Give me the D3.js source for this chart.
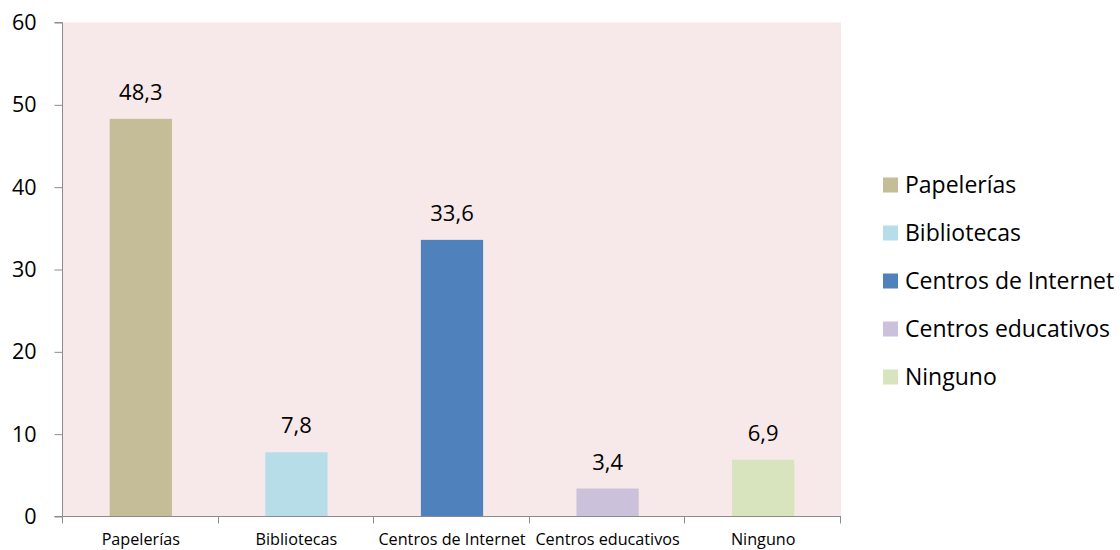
<!DOCTYPE html>
<html>
<head>
<meta charset="utf-8">
<script src="https://cdn.jsdelivr.net/npm/d3@7"></script>
<style>
  body { margin: 0; background: #fff; }
  svg { display: block; font-family: "Open Sans", "Noto Sans", sans-serif; }
</style>
</head>
<body>
<svg id="chart" width="1120" height="550"></svg>
<script>
// Lugares de acceso a Internet (%)
const categories = ["Papelerías", "Bibliotecas", "Centros de Internet", "Centros educativos", "Ninguno"];
const values = [48.3, 7.8, 33.6, 3.4, 6.9];
const colors = ["#C4BD97", "#B7DDE8", "#4F81BD", "#CCC1DA", "#D7E4BD"];
const yTicks = [0, 10, 20, 30, 40, 50, 60];

const svg = d3.select("#chart");
const plot = { left: 63, right: 841, top: 22.5, bottom: 516.5 };

const x = d3.scaleBand()
  .domain(categories)
  .range([plot.left, plot.right])
  .paddingInner(0.6)
  .paddingOuter(0.3);

const y = d3.scaleLinear()
  .domain([0, 60])
  .range([plot.bottom, plot.top]);

const fmt = v => String(v).replace(".", ",");

// plot background
svg.append("rect")
  .attr("x", plot.left)
  .attr("y", plot.top)
  .attr("width", plot.right - plot.left)
  .attr("height", plot.bottom - plot.top)
  .attr("fill", "#F7E9E9");

// bars
svg.append("g").selectAll("rect")
  .data(values)
  .join("rect")
  .attr("x", (d, i) => x(categories[i]))
  .attr("y", d => y(d))
  .attr("width", x.bandwidth())
  .attr("height", d => y(0) - y(d))
  .attr("fill", (d, i) => colors[i]);

// value labels
svg.append("g").selectAll("text")
  .data(values)
  .join("text")
  .attr("x", (d, i) => x(categories[i]) + x.bandwidth() / 2)
  .attr("y", d => y(d) - 19)
  .attr("text-anchor", "middle")
  .attr("font-size", 22)
  .attr("fill", "#000")
  .text(d => fmt(d));

// y axis
const yAxis = d3.axisLeft(y).tickValues(yTicks).tickSize(8).tickPadding(18).tickFormat(d => d);
const gy = svg.append("g")
  .attr("transform", `translate(${plot.left - 0.5},0)`)
  .call(yAxis);
gy.select(".domain").attr("stroke", "#8C8C8C").attr("d", `M-8,${plot.top}H0V${plot.bottom}H-8`);
gy.selectAll(".tick line").attr("stroke", "#8C8C8C");
gy.selectAll(".tick text")
  .attr("font-size", 21.5)
  .attr("font-family", "'Open Sans', sans-serif")
  .attr("fill", "#000");

// x axis with category boundary ticks
const gx = svg.append("g")
  .attr("transform", `translate(0,${plot.bottom})`);
gx.append("line")
  .attr("x1", plot.left).attr("x2", plot.right)
  .attr("stroke", "#8C8C8C");
const boundaries = categories.map(c => x(c) - x.step() * x.paddingInner() / 2);
boundaries.push(plot.right);
boundaries[0] = plot.left;
gx.selectAll(".bnd")
  .data(boundaries)
  .join("line")
  .attr("class", "bnd")
  .attr("x1", d => Math.round(d) - 0.5)
  .attr("x2", d => Math.round(d) - 0.5)
  .attr("y1", 0)
  .attr("y2", 7)
  .attr("stroke", "#8C8C8C");
gx.selectAll("text")
  .data(categories)
  .join("text")
  .attr("x", d => x(d) + x.bandwidth() / 2)
  .attr("y", 28)
  .attr("text-anchor", "middle")
  .attr("font-size", 16.2)
  .attr("fill", "#000")
  .text(d => d);

// legend
const legend = svg.append("g").attr("transform", "translate(883,0)");
const rows = legend.selectAll("g")
  .data(categories)
  .join("g")
  .attr("transform", (d, i) => `translate(0,${185 + i * 48})`);
rows.append("rect")
  .attr("x", 0).attr("y", -7.5)
  .attr("width", 15).attr("height", 15)
  .attr("fill", (d, i) => colors[i]);
rows.append("text")
  .attr("x", 22)
  .attr("y", 8)
  .attr("font-size", 23)
  .attr("fill", "#000")
  .text(d => d);
</script>
</body>
</html>
